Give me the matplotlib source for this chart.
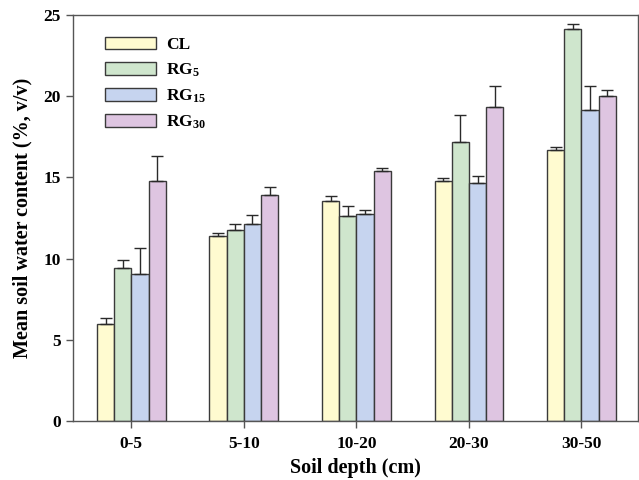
import numpy as np
import matplotlib
matplotlib.use('Agg')
import matplotlib.pyplot as plt

plt.rcParams['font.family'] = 'Liberation Serif'
plt.rcParams['font.weight'] = 'bold'
plt.rcParams['mathtext.fontset'] = 'custom'
plt.rcParams['mathtext.rm'] = 'Liberation Serif:bold'
plt.rcParams['mathtext.it'] = 'Liberation Serif:bold'
plt.rcParams['mathtext.bf'] = 'Liberation Serif:bold'

depths = ['0-5', '5-10', '10-20', '20-30', '30-50']
series = ['CL', 'RG$_{5}$', 'RG$_{15}$', 'RG$_{30}$']
colors = ['#fffbd0', '#cfe6cd', '#c6d4ef', '#dec5e1']

cl = [6.0, 11.4, 13.55, 14.8, 16.7]
rg5 = [9.4, 11.75, 12.6, 17.2, 24.1]
rg15 = [9.05, 12.1, 12.75, 14.65, 19.15]
rg30 = [14.8, 13.9, 15.4, 19.35, 20.0]

cl_err = [0.35, 0.15, 0.3, 0.15, 0.15]
rg5_err = [0.5, 0.35, 0.65, 1.65, 0.35]
rg15_err = [1.6, 0.55, 0.25, 0.45, 1.5]
rg30_err = [1.5, 0.5, 0.2, 1.25, 0.35]

means = [cl, rg5, rg15, rg30]
errs = [cl_err, rg5_err, rg15_err, rg30_err]

fig = plt.figure(figsize=(6.39, 4.8), dpi=100)
ax = fig.add_axes([0.114, 0.123, 0.884, 0.846])

x = np.arange(len(depths))
w = 0.153
for i in range(4):
    pos = x + (i - 1.5) * w
    ax.bar(pos, means[i], w, color=colors[i], edgecolor='#3a3a3a', linewidth=1.0,
           label=series[i], zorder=2)
    ax.errorbar(pos, means[i], yerr=[np.zeros(5), errs[i]], fmt='none',
                ecolor='#2a2a2a', elinewidth=1.0, capsize=4, capthick=1.0, zorder=3)

ax.set_xlim(-0.52, 4.5)
ax.set_ylim(0, 25)
ax.set_yticks([0, 5, 10, 15, 20, 25])
ax.set_xticks(x)
ax.set_xticklabels(depths)
ax.tick_params(axis='both', direction='out', length=5, labelsize=12.5, width=1.0, color='#555555')
ax.tick_params(axis='x', pad=6)
for lab in ax.get_xticklabels() + ax.get_yticklabels():
    lab.set_fontweight('bold')
for s in ax.spines.values():
    s.set_color('#555555')
    s.set_linewidth(1.0)

ax.set_xlabel('Soil depth (cm)', fontsize=14.5, fontweight='bold', labelpad=4)
ax.set_ylabel('Mean soil water content (%, v/v)', fontsize=14.5, fontweight='bold', labelpad=8)

leg = ax.legend(loc='upper left', frameon=False, fontsize=12.5, bbox_to_anchor=(0.03, 0.985),
                handlelength=2.9, handleheight=0.75, labelspacing=0.5, handletextpad=0.6)

fig.savefig('out.png', dpi=100)
